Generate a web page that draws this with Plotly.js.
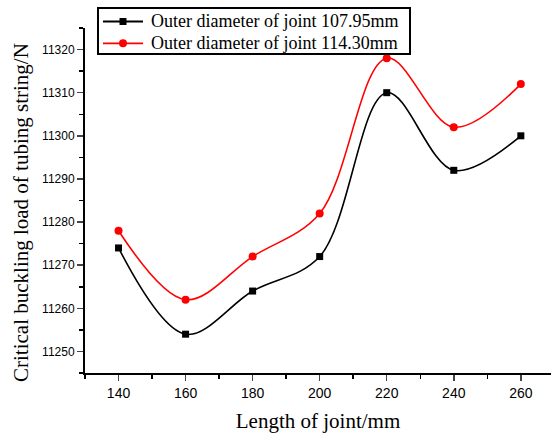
<!DOCTYPE html>
<html>
<head>
<meta charset="utf-8">
<script src="https://cdn.plot.ly/plotly-3.0.1.min.js"></script>
<style>html,body{margin:0;padding:0;background:#fff}#chart{width:552px;height:436px}</style>
</head>
<body>
<div id="chart"></div>
<script>
const jointLength = [140, 160, 180, 200, 220, 240, 260];
const load10795 = [11274, 11254, 11264, 11272, 11310, 11292, 11300];
const load11430 = [11278, 11262, 11272, 11282, 11318, 11302, 11312];
const seriesNames = ['Outer diameter of joint 107.95mm', 'Outer diameter of joint 114.30mm'];
const seriesColors = ['#000000', '#ff0000'];
const xTicks = [140, 160, 180, 200, 220, 240, 260];
const yTicks = [11250, 11260, 11270, 11280, 11290, 11300, 11310, 11320];
const yTitle = 'Critical buckling load of tubing string/N';

const W = 552, H = 436, M = {l: 85, r: 1, t: 28, b: 63};
const pw = W - M.l - M.r, ph = H - M.t - M.b;
const px = v => (v - M.l) / pw;
const py = v => (H - M.b - v) / ph;

const traces = [
  {x: jointLength, y: load10795, name: seriesNames[0], type: 'scatter', mode: 'lines+markers',
   line: {color: seriesColors[0], width: 1.6, shape: 'spline', smoothing: 1},
   marker: {symbol: 'square', size: 7, color: seriesColors[0]}},
  {x: jointLength, y: load11430, name: seriesNames[1], type: 'scatter', mode: 'lines+markers',
   line: {color: seriesColors[1], width: 1.6, shape: 'spline', smoothing: 1},
   marker: {symbol: 'circle', size: 8, color: seriesColors[1]}}
];

// Legend drawn as shapes + annotations to match the compact boxed legend
const rowsY = [21.5, 43.3];
const shapes = [
  {type: 'rect', xref: 'paper', yref: 'paper', x0: px(98), x1: px(410), y0: py(54), y1: py(8),
   fillcolor: '#fff', line: {color: '#000', width: 2}, layer: 'above'}
];
const annotations = [];
rowsY.forEach((ry, i) => {
  shapes.push({type: 'line', xref: 'paper', yref: 'paper', x0: px(103), x1: px(143), y0: py(ry), y1: py(ry),
    line: {color: seriesColors[i], width: 1.8}, layer: 'above'});
  const r = i === 0 ? 3.5 : 4;
  shapes.push({type: i === 0 ? 'rect' : 'circle', xref: 'paper', yref: 'paper',
    x0: px(123 - r), x1: px(123 + r), y0: py(ry + r), y1: py(ry - r),
    fillcolor: seriesColors[i], line: {color: seriesColors[i], width: 0}, layer: 'above'});
  annotations.push({xref: 'paper', yref: 'paper', x: px(149), y: py(ry), xanchor: 'left', yanchor: 'middle',
    text: seriesNames[i], showarrow: false,
    font: {family: 'Liberation Serif, Times New Roman, serif', size: 18, color: '#000'}});
});
annotations.push({xref: 'paper', yref: 'paper', x: px(21), y: py(213), xanchor: 'center', yanchor: 'middle',
  text: yTitle, textangle: -90, showarrow: false,
  font: {family: 'Liberation Serif, Times New Roman, serif', size: 21, color: '#000'}});

const layout = {
  width: W, height: H,
  margin: M,
  paper_bgcolor: '#fff', plot_bgcolor: '#fff',
  showlegend: false,
  shapes: shapes, annotations: annotations,
  xaxis: {range: [130, 269], tickvals: xTicks, ticks: 'outside', ticklen: 6, tickwidth: 1.5,
    showline: true, linewidth: 2, linecolor: '#000', showgrid: false, zeroline: false,
    minor: {dtick: 10, ticks: 'outside', ticklen: 4, tickwidth: 1.5, tickcolor: '#000', showgrid: false},
    tickfont: {family: 'Liberation Sans, Arial, sans-serif', size: 14, color: '#000'},
    title: {text: 'Length of joint/mm', standoff: 14,
      font: {family: 'Liberation Serif, Times New Roman, serif', size: 21, color: '#000'}}},
  yaxis: {range: [11245, 11325], tickvals: yTicks, tickformat: 'd', ticks: 'outside', ticklen: 6, tickwidth: 1.5,
    showline: true, linewidth: 2, linecolor: '#000', showgrid: false, zeroline: false,
    minor: {dtick: 5, ticks: 'outside', ticklen: 4, tickwidth: 1.5, tickcolor: '#000', showgrid: false},
    tickfont: {family: 'Liberation Sans, Arial, sans-serif', size: 12, color: '#000'}}
};

Plotly.newPlot('chart', traces, layout, {displayModeBar: false, staticPlot: true});
</script>
</body>
</html>
